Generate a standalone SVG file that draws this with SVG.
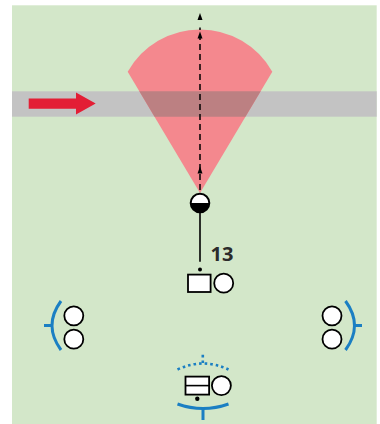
<svg xmlns="http://www.w3.org/2000/svg" width="380" height="424" viewBox="0 0 380 424">
<style>
.ol{fill:#fff;stroke:#000;stroke-width:1.8}
.br{fill:none;stroke:#1b7fc3;stroke-width:3}
.dt{fill:none;stroke:#1b7fc3;stroke-width:2.6;stroke-dasharray:2.6 3}
.ah{fill:#000}
</style>
<defs>
<clipPath id="band"><rect x="12" y="91.3" width="364.7" height="25.4"/></clipPath>
</defs>
<rect x="0" y="0" width="380" height="424" fill="#fff"/>
<rect x="12" y="5.3" width="364.7" height="418.7" fill="#d3e7c9"/>
<rect x="12" y="91.3" width="364.7" height="25.4" fill="#c3c3c3"/>
<g id="zone">
<path d="M200,193 L127.7,71.7 A83,83 0 0 1 272.3,71.7 Z" fill="#f4888e"/>
<path d="M200,193 L127.7,71.7 A83,83 0 0 1 272.3,71.7 Z" fill="#bc8082" clip-path="url(#band)"/>
</g>
<g id="flow-arrow">
<polygon points="28.7,98.6 76,98.6 76,92.4 95.7,103.6 76,114.6 76,108.7 28.7,108.7" fill="#e31e35"/>
</g>
<g id="connectors">
<line x1="200" y1="190" x2="200" y2="27.5" stroke="#000" stroke-width="1.5" stroke-dasharray="6 4"/>
<polygon class="ah" points="200,13 202.5,20 197.5,20"/>
<polygon class="ah" points="200,31.5 202.5,38.5 197.5,38.5"/>
<polygon class="ah" points="200,166.5 202.5,173.5 197.5,173.5"/>
<line x1="200" y1="212" x2="200" y2="261.7" stroke="#000" stroke-width="1.6"/>
</g>
<g id="sensor">
<circle cx="200" cy="203" r="9.3" fill="#fff"/>
<path d="M190.7,203 A9.3,9.3 0 0 0 209.3,203 Z" fill="#000"/>
<circle cx="200" cy="203" r="9.3" fill="none" stroke="#000" stroke-width="2"/>
</g>
<g id="node-13">
<text x="210.5" y="260.7" font-family="'Open Sans','Liberation Sans',sans-serif" font-weight="bold" font-size="20" fill="#2b2b2b">13</text>
<circle cx="200" cy="269.5" r="2"/>
<rect class="ol" x="188" y="274.6" width="22.6" height="17.4"/>
<circle class="ol" cx="223.7" cy="283.2" r="9.5"/>
</g>
<g id="left-pair">
<path class="br" d="M61,301 Q43,325.5 61,350"/>
<line class="br" x1="44" y1="325.5" x2="52" y2="325.5"/>
<circle class="ol" cx="73.8" cy="315.8" r="9.5"/>
<circle class="ol" cx="73.8" cy="339.2" r="9.5"/>
</g>
<g id="right-pair">
<path class="br" d="M345.5,301 Q363.5,325.5 345.5,350"/>
<line class="br" x1="354" y1="325.5" x2="362" y2="325.5"/>
<circle class="ol" cx="332" cy="315.8" r="9.5"/>
<circle class="ol" cx="332" cy="339.2" r="9.5"/>
</g>
<g id="bottom-node">
<path class="dt" d="M177.5,369.5 Q203,357.5 228.5,369.5"/>
<line class="dt" x1="202.8" y1="363" x2="202.8" y2="354" stroke-dasharray="2.2 2"/>
<rect class="ol" x="185.5" y="376.6" width="23.6" height="18"/>
<line x1="185.5" y1="385.6" x2="209.1" y2="385.6" stroke="#000" stroke-width="1.6"/>
<circle class="ol" cx="221.4" cy="385.6" r="9.5"/>
<circle cx="197.3" cy="398.7" r="2.2"/>
<path class="br" d="M177.5,404 Q203,413 228.5,404"/>
<line class="br" x1="203" y1="408.5" x2="203" y2="420"/>
</g>
</svg>
